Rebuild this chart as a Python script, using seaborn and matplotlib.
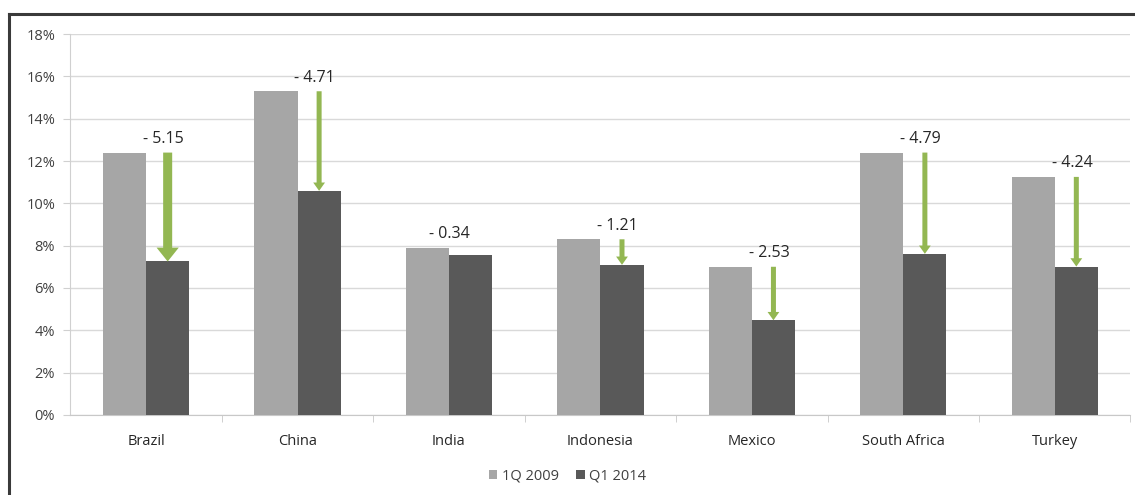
import numpy as np
import pandas as pd
import seaborn as sns
import matplotlib.pyplot as plt
from matplotlib.lines import Line2D
from matplotlib.ticker import PercentFormatter, MultipleLocator


countries = ['Brazil', 'China', 'India', 'Indonesia', 'Mexico', 'South Africa', 'Turkey']
rate_1q2009 = [12.4, 15.3, 7.9, 8.3, 7.0, 12.4, 11.25]
rate_q12014 = [7.25, 10.59, 7.56, 7.09, 4.47, 7.61, 7.01]
changes = [5.15, 4.71, 0.34, 1.21, 2.53, 4.79, 4.24]
periods = ['1Q 2009', 'Q1 2014']

light_grey = '#a6a6a6'
dark_grey = '#595959'
green = '#93b752'
text_col = '#404040'


def getFrame():
    df = pd.DataFrame({'Country': countries, periods[0]: rate_1q2009, periods[1]: rate_q12014})
    df = df.melt(id_vars='Country', var_name='Period', value_name='Rate')
    return df


def addArrows(ax):
    # second bar of every group carries the arrow
    new_bars = ax.containers[1]
    old_bars = ax.containers[0]
    for i, chg in enumerate(changes):
        bar = new_bars[i]
        xc = bar.get_x() + bar.get_width() / 2
        top_old = rate_1q2009[i]
        top_new = rate_q12014[i]
        if chg < 0.5:
            # too small for an arrow, label sits over the group
            ob = old_bars[i]
            xl = ob.get_x() + ob.get_width()
        else:
            xl = xc - bar.get_width() * 0.1
            if i == 0:
                style = 'simple,head_length=10,head_width=16,tail_width=6.5'
            else:
                style = 'simple,head_length=6,head_width=8.5,tail_width=3.6'
            ax.annotate('', xy=(xc, top_new), xytext=(xc, top_old),
                        arrowprops=dict(arrowstyle=style, color=green, lw=0,
                                        mutation_scale=1, shrinkA=0, shrinkB=0),
                        zorder=4)
        ax.text(xl, top_old + 0.65, '- {0:.2f}'.format(chg), ha='center', va='center',
                fontsize=11.5, color='#262626', zorder=5)


def main():
    df = getFrame()

    fig = plt.figure(figsize=(11.35, 4.95), dpi=100)
    ax = fig.add_axes([0.062, 0.162, 0.934, 0.769])

    sns.barplot(data=df, x='Country', y='Rate', hue='Period',
                palette=[light_grey, dark_grey], width=0.57, gap=0,
                saturation=1, ax=ax, zorder=3)

    ax.set_ylim(0, 18)
    ax.set_xlim(-0.5, len(countries) - 0.5)
    ax.yaxis.set_major_locator(MultipleLocator(2))
    ax.yaxis.set_major_formatter(PercentFormatter(decimals=0))
    ax.set_xlabel('')
    ax.set_ylabel('')
    ax.grid(axis='y', color='#d9d9d9', lw=1, zorder=0)
    ax.set_axisbelow(True)

    for side in ['top', 'right']:
        ax.spines[side].set_visible(False)
    ax.spines['left'].set_color('#d0d0d0')
    ax.spines['bottom'].set_color('#c8c8c8')

    ax.tick_params(axis='y', length=5, color='#d0d0d0', labelsize=10.5, labelcolor=text_col, pad=6)
    ax.tick_params(axis='x', length=0, labelsize=10.5, labelcolor='#262626', pad=14)
    ax.set_xticks(np.arange(len(countries)) + 0.5, minor=True)
    ax.tick_params(axis='x', which='minor', length=5, color='#c8c8c8')

    addArrows(ax)

    leg = ax.legend(loc='center', bbox_to_anchor=(0.5, 0.038), bbox_transform=fig.transFigure,
                    ncol=2, frameon=False, handlelength=0.6, handleheight=0.6,
                    handletextpad=0.3, columnspacing=1.2, fontsize=10.5)
    for t in leg.get_texts():
        t.set_color(text_col)

    # outer chart frame (left and top edges only are visible)
    fig.add_artist(Line2D([9 / 1135, 9 / 1135], [0, 1 - 14 / 495], color='#3a3a3a', lw=2.2))
    fig.add_artist(Line2D([9 / 1135, 1], [1 - 14 / 495, 1 - 14 / 495], color='#3a3a3a', lw=2.2))

    fig.savefig('out.png', dpi=100)


if __name__ == '__main__':
    plt.rcParams['font.family'] = ['Open Sans', 'DejaVu Sans']
    main()
